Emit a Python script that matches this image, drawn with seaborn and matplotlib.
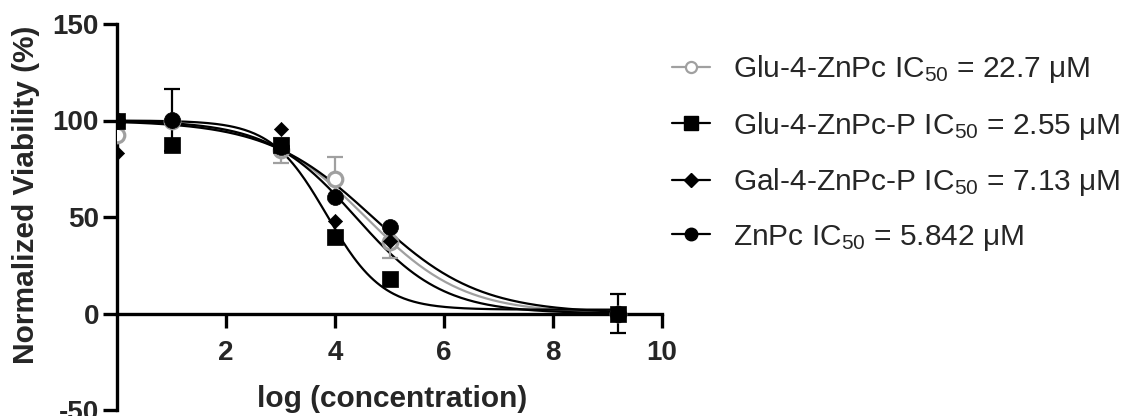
import numpy as np
import pandas as pd
import matplotlib
matplotlib.use("Agg")
import matplotlib.pyplot as plt
from matplotlib.lines import Line2D
import seaborn as sns

# ---------------- data ----------------
log_conc = [0, 1, 3, 4, 5, 9.2]
series_names = ["Glu-4-ZnPc", "Glu-4-ZnPc-P", "Gal-4-ZnPc-P", "ZnPc"]
ic50_labels = ["22.7", "2.55", "7.13", "5.842"]

glu_zn = [92.4, 100.0, 84.6, 69.9, 36.9, 0.0]
glu_zn_err = [0, 0, 6.5, 11.0, 8.2, 0]
glu_zn_p = [100.0, 87.2, 87.2, 39.5, 17.8, 0.0]
glu_zn_p_err = [0, 0, 0, 0, 0, 0]
gal_zn_p = [83.2, 100.0, 95.4, 48.0, 37.8, 0.0]
gal_zn_p_err = [0, 0, 0, 0, 0, 0]
znpc = [100.0, 100.3, 86.5, 60.3, 45.0, 0.0]
znpc_err = [0, 16.0, 0, 0, 0, 10.0]

# fitted dose-response parameters (top, bottom, logIC50, hill)
fit_top = [100, 100, 100, 100]
fit_bottom = [0, 2, 0, 0]
fit_logic50 = [4.56, 3.85, 4.38, 4.69]
fit_hill = [0.484, 0.85, 0.545, 0.446]

yticks = [-50, 0, 50, 100, 150]
xticks = [2, 4, 6, 8, 10]

# ---------------- style ----------------
sns.set_theme(style="white")
plt.rcParams["font.family"] = ["Liberation Sans", "DejaVu Sans"]
plt.rcParams["mathtext.fontset"] = "custom"
plt.rcParams["mathtext.rm"] = "Liberation Sans"
plt.rcParams["mathtext.it"] = "Liberation Sans"
plt.rcParams["axes.unicode_minus"] = False

GREY = "#a0a0a0"
BLACK = "#000000"
colors = [GREY, BLACK, BLACK, BLACK]
markers = ["o", "s", "D", "o"]
msizes = [110, 128, 52, 132]

W, H = 1122, 416
fig = plt.figure(figsize=(W / 100, H / 100), dpi=100)
ax = fig.add_axes([117 / W, 1 - 410 / H, (662 - 117) / W, (410 - 24) / H])

ys = [glu_zn, glu_zn_p, gal_zn_p, znpc]
errs = [glu_zn_err, glu_zn_p_err, gal_zn_p_err, znpc_err]

# fitted curves
xs = np.linspace(log_conc[0], log_conc[-1], 300)
for i, name in enumerate(series_names):
    curve = fit_bottom[i] + (fit_top[i] - fit_bottom[i]) / (
        1 + 10 ** ((xs - fit_logic50[i]) * fit_hill[i]))
    dfc = pd.DataFrame({"x": xs, "y": curve})
    sns.lineplot(data=dfc, x="x", y="y", ax=ax, color=colors[i], lw=1.6,
                 zorder=2, legend=False)

# error bars
for i in range(4):
    e = np.array(errs[i], dtype=float)
    mask = e > 0
    if mask.any():
        ax.errorbar(np.array(log_conc)[mask], np.array(ys[i])[mask],
                    yerr=e[mask], fmt="none", ecolor=colors[i],
                    elinewidth=1.6, capsize=5.5, capthick=1.6, zorder=3)

# points (draw order: grey, diamond, circle, square)
order = [0, 2, 3, 1]
for i in order:
    dfp = pd.DataFrame({"x": log_conc, "y": ys[i]})
    if i == 0:
        sns.scatterplot(data=dfp, x="x", y="y", ax=ax, marker="o", s=msizes[i],
                        facecolor="white", edgecolor=GREY, linewidth=2.3,
                        zorder=4, legend=False)
    else:
        sns.scatterplot(data=dfp, x="x", y="y", ax=ax, marker=markers[i],
                        s=msizes[i], color=BLACK, edgecolor=BLACK, linewidth=0.5,
                        zorder=4 + order.index(i), legend=False)

# axes styling
ax.set_xlim(0, 10)
ax.set_ylim(-50, 150)
ax.set_xticks(xticks)
ax.set_yticks(yticks)
ax.spines["top"].set_visible(False)
ax.spines["right"].set_visible(False)
ax.spines["bottom"].set_position(("data", 0))
for sp in ["left", "bottom"]:
    ax.spines[sp].set_linewidth(2.4)
    ax.spines[sp].set_color("black")
ax.tick_params(axis="both", which="major", direction="out", length=10,
               width=2.4, color="black", labelsize=20)
ax.tick_params(axis="x", pad=9)
ax.tick_params(axis="y", pad=3)
ax.tick_params(left=True, bottom=True)
for lab in ax.get_xticklabels() + ax.get_yticklabels():
    lab.set_fontweight("bold")
ax.set_xlabel("log (concentration)", fontsize=21.5, fontweight="bold")
ax.xaxis.set_label_coords(0.505, 0.008)
ax.xaxis.label.set_verticalalignment("baseline")
ax.set_ylabel("Normalized Viability (%)", fontsize=21.5, fontweight="bold")
ax.yaxis.set_label_coords(-0.141, 0.557)
ax.grid(False)
ax.set_facecolor("white")

# legend
handles = []
labels = []
leg_ms = [8, 10, 7.5, 9]
for i, name in enumerate(series_names):
    if i == 0:
        h = Line2D([], [], color=GREY, marker="o", markersize=leg_ms[i], mfc="white",
                   mec=GREY, mew=1.6, lw=1.6)
    else:
        h = Line2D([], [], color=BLACK, marker=markers[i],
                   markersize=leg_ms[i], mfc=BLACK, mec=BLACK, lw=1.6)
    handles.append(h)
    labels.append(f"{name} IC$_{{\\mathrm{{50}}}}$ = {ic50_labels[i]} μM")
fig.legend(handles, labels, loc="upper left", bbox_to_anchor=(645 / W, 0.937),
           frameon=False, fontsize=21.5, handlelength=1.28, handletextpad=0.77,
           labelspacing=0.82, borderpad=0.4)

fig.savefig("out.png", dpi=100, facecolor="white")
